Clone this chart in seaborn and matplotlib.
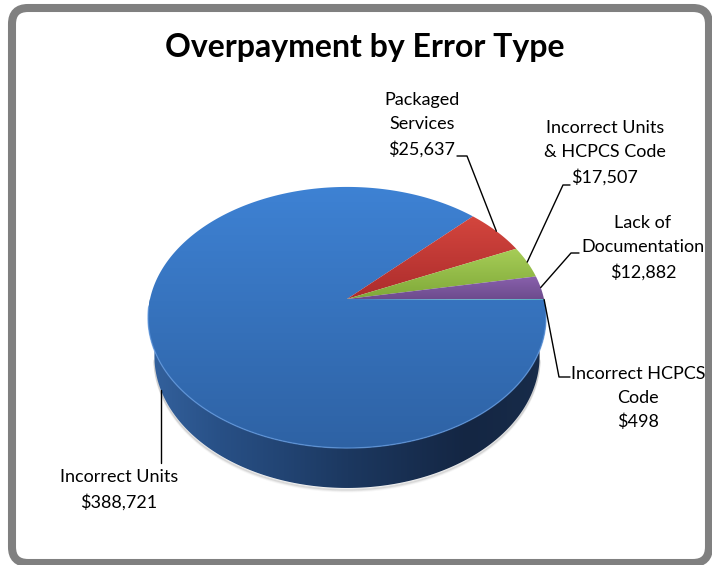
import numpy as np
import matplotlib
matplotlib.use("Agg")
import matplotlib.pyplot as plt
from matplotlib.patches import Polygon, FancyBboxPatch
import seaborn as sns

# ---------------- data ----------------
title = "Overpayment by Error Type"
categories = ["Incorrect Units", "Packaged\nServices", "Incorrect Units\n& HCPCS Code",
              "Lack of\nDocumentation", "Incorrect HCPCS\nCode"]
values = [388721, 25637, 17507, 12882, 498]
value_labels = ["$388,721", "$25,637", "$17,507", "$12,882", "$498"]

# ---------------- style ----------------
sns.set_theme(style="white")
plt.rcParams['font.family'] = ['Lato', 'DejaVu Sans']

top_colors = [((62, 130, 212), (46, 98, 164)),
              ((212, 70, 62), (172, 44, 44)),
              ((168, 206, 88), (126, 168, 56)),
              ((138, 98, 174), (108, 74, 140)),
              ((80, 180, 205), (60, 150, 175))]
side_stops = [(0.0, (52, 98, 158)), (0.18, (40, 80, 134)), (0.5, (28, 56, 96)),
              (0.8, (20, 38, 67)), (1.0, (24, 44, 74))]

W, H = 712, 565
fig = plt.figure(figsize=(W / 100, H / 100), dpi=100)
ax = fig.add_axes([0, 0, 1, 1])

# frame
frame = FancyBboxPatch((12, 8), 697, 555, boxstyle="round,pad=0,rounding_size=16",
                       fc="white", ec="#808080", lw=5.8, zorder=0)
ax.add_patch(frame)

# ---------------- 3D pie geometry ----------------
cx, cy = 347, 299          # projected pie centre (pixels)
S = 197                    # radius scale (pixels)
alpha = np.deg2rad(40.5)   # tilt
k = 5.37                   # perspective distance
h = 0.27                   # pie thickness
start_deg = -0.4           # first slice start, clockwise
s_a, c_a = np.sin(alpha), np.cos(alpha)


def proj(theta, z=0.0, r=1.0):
    u = r * np.cos(theta)
    v = r * np.sin(theta)
    Y = v * s_a + z * c_a
    D = v * c_a - z * s_a
    f = k / (k + D)
    return cx + S * u * f, cy - S * Y * f


vals = np.array(values, dtype=float)
fr = vals / vals.sum()
ends = np.deg2rad(start_deg) - 2 * np.pi * np.cumsum(fr)
starts = np.concatenate([[np.deg2rad(start_deg)], ends[:-1]])


def grad_image(c0, c1, n=256):
    t = np.linspace(0, 1, n)[:, None]
    a = np.array(c0) / 255.0
    b = np.array(c1) / 255.0
    return (a + (b - a) * t)[:, None, :]


# side wall (front half)
th = np.linspace(np.pi, 2 * np.pi, 300)
tx, ty = proj(th, 0.0)
bx, by = proj(th[::-1], -h)
side_poly = Polygon(np.column_stack([np.concatenate([tx, bx]), np.concatenate([ty, by])]),
                    closed=True, fc="none", ec="none", transform=ax.transData)
ax.add_patch(side_poly)
xs = np.linspace(0, 1, 400)
stops_x = [p for p, _ in side_stops]
side_rgb = np.stack([np.interp(xs, stops_x, [col[i] / 255 for _, col in side_stops])
                     for i in range(3)], axis=-1)[None, :, :]
x0s, x1s = bx.min() - 2, bx.max() + 2
im = ax.imshow(side_rgb, extent=(min(tx.min(), x0s), max(tx.max(), x1s), by.max() + 2, ty.min() - 2),
               origin="upper", aspect="auto", zorder=2, interpolation="bilinear")
im.set_clip_path(side_poly)

# soft shadow under the pie
for i, a in enumerate([0.10, 0.06, 0.03]):
    sx, sy = proj(np.linspace(np.pi * 1.05, np.pi * 1.95, 200), -h)
    ax.plot(sx, sy + 1.5 + i, color="black", alpha=a, lw=1.5, zorder=1.5)

# top faces
for i in range(len(values)):
    a0, a1 = starts[i], ends[i]
    n = max(int(abs(a1 - a0) / np.deg2rad(0.5)), 4)
    t = np.linspace(a0, a1, n)
    px, py = proj(t, 0.0)
    px = np.concatenate([[cx], px])
    py = np.concatenate([[cy], py])
    poly = Polygon(np.column_stack([px, py]), closed=True, fc="none", ec="none",
                   transform=ax.transData)
    ax.add_patch(poly)
    c0, c1 = top_colors[i]
    img = ax.imshow(grad_image(c0, c1), extent=(px.min() - 1, px.max() + 1, py.max() + 1, py.min() - 1),
                    origin="upper", aspect="auto", zorder=3, interpolation="bilinear")
    img.set_clip_path(poly)

# rim highlight along front edge
rx, ry = proj(np.linspace(np.pi * 1.02, np.pi * 1.98, 300), 0.0)
ax.plot(rx, ry, color=(0.38, 0.6, 0.88), lw=1.0, alpha=0.7, zorder=4)

# ---------------- labels ----------------
fs = 13
label_pos = [(119, 490), (422, 125), (605, 153), (643, 248), (638, 398)]
elbows = [None, (467, 156), (563, 185), (571, 253), (559, 377)]
line_ends = [(None, 463), (457, 156), (570, 185), (579, 253), (570, 377)]
anchor_z = [-h, 0.0, 0.0, 0.0, 0.0]

for i in range(len(values)):
    txt = categories[i] + "\n" + value_labels[i]
    ax.text(label_pos[i][0], label_pos[i][1], txt, ha="center", va="center",
            multialignment="center", fontsize=fs, color="black", linespacing=1.62, zorder=6)
    mid = (starts[i] + ends[i]) / 2
    axx, axy = proj(mid, anchor_z[i])
    if elbows[i] is None:
        ax.plot([axx, axx], [axy, line_ends[i][1]], color="black", lw=1.0, zorder=5)
    else:
        ex, ey = elbows[i]
        lx, ly = line_ends[i]
        ax.plot([axx, ex, lx], [axy, ey, ly], color="black", lw=1.0, zorder=5)

ax.text(365, 57, title, ha="center", va="baseline", fontsize=23, fontweight="bold",
        color="black", zorder=6)

ax.set_xlim(0, W)
ax.set_ylim(H, 0)
ax.axis("off")
fig.savefig("out.png", dpi=100, facecolor="white")
